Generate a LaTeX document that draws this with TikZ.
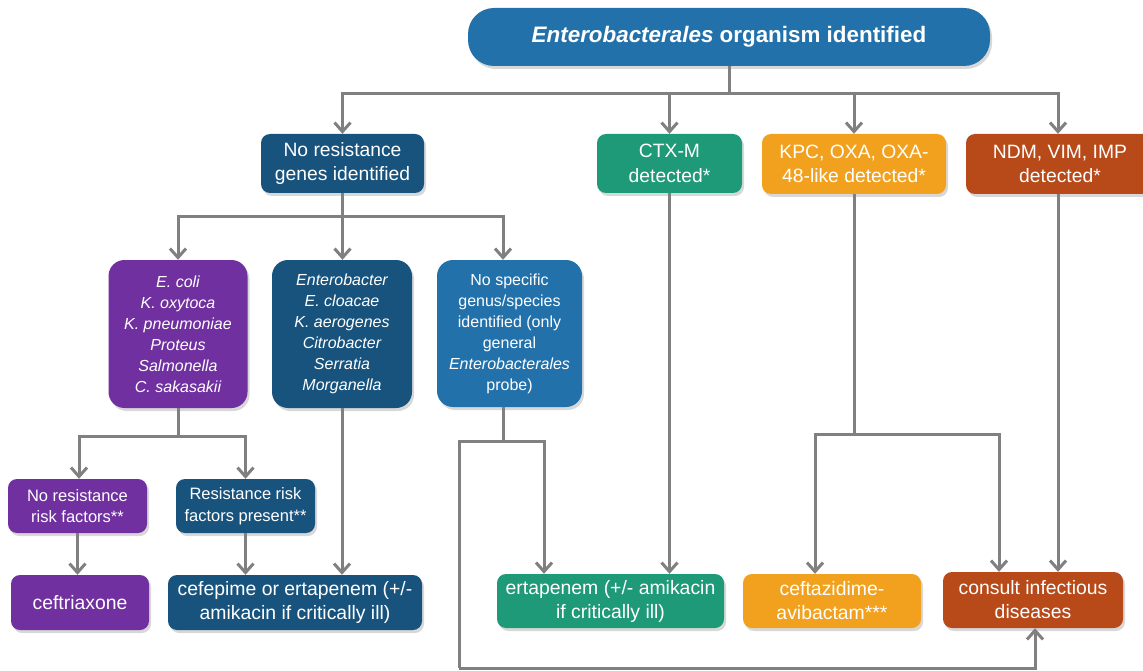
\documentclass[tikz,border=0pt]{standalone}
\usepackage{fontspec}
\setmainfont{Liberation Sans}
\usetikzlibrary{arrows.meta,shadows,calc}
\definecolor{cTop}{RGB}{34,113,170}
\definecolor{cDark}{RGB}{24,83,126}
\definecolor{cPurple}{RGB}{112,48,160}
\definecolor{cGreen}{RGB}{30,154,120}
\definecolor{cOrange}{RGB}{242,161,31}
\definecolor{cRust}{RGB}{184,74,26}
\definecolor{cLine}{RGB}{128,128,128}
\begin{document}
\begin{tikzpicture}[x=1pt,y=-1pt,
  box/.style={rectangle,rounded corners=9pt,text=white,align=center,inner sep=0pt,
    drop shadow={opacity=0.3,shadow xshift=2pt,shadow yshift=-3pt}},
  mainfont/.style={font=\fontsize{19.3}{24.5}\selectfont},
  specfont/.style={font=\fontsize{16}{21}\selectfont\itshape},
  riskfont/.style={font=\fontsize{16.5}{21.5}\selectfont},
  endfont/.style={font=\fontsize{19.4}{24}\selectfont},
  conn/.style={draw=cLine,line width=3pt},
  arr/.style={conn,-{Straight Barb[length=9pt,width=16pt,line width=3pt]}}
]
\fill[white] (0,0) rectangle (1143,671);
\useasboundingbox (0,0) rectangle (1143,671);

% nodes
\node[box,rounded corners=26pt,fill=cTop,minimum width=522pt,minimum height=58pt,
  font=\fontsize{22.4}{26}\selectfont\bfseries] (top) at (729,37)
  {\textit{Enterobacterales} organism identified};

\node[box,mainfont,fill=cDark,minimum width=163pt,minimum height=59pt] (nores) at (342.5,163.5)
  {No resistance\\genes identified};
\node[box,mainfont,fill=cGreen,minimum width=145pt,minimum height=59pt] (ctxm) at (669.5,163.5)
  {CTX-M\\detected*};
\node[box,mainfont,fill=cOrange,minimum width=184pt,minimum height=60pt] (kpc) at (854,164)
  {KPC, OXA, OXA-\\48-like detected*};
\node[box,mainfont,fill=cRust,minimum width=188pt,minimum height=60pt] (ndm) at (1060,164)
  {NDM, VIM, IMP\\detected*};

\node[box,specfont,fill=cPurple,minimum width=139pt,minimum height=148pt,rounded corners=16pt] (ecoli) at (178,334)
  {E. coli\\K. oxytoca\\K. pneumoniae\\Proteus\\Salmonella\\C. sakasakii};
\node[box,specfont,fill=cDark,minimum width=140pt,minimum height=148pt,rounded corners=16pt] (entb) at (342,334)
  {Enterobacter\\E. cloacae\\K. aerogenes\\Citrobacter\\Serratia\\Morganella};
\node[box,fill=cTop,minimum width=145pt,minimum height=147pt,rounded corners=16pt,
  font=\fontsize{16}{21}\selectfont] (nospec) at (509.5,333.5)
  {No specific\\genus/species\\identified (only\\general\\\textit{Enterobacterales}\\probe)};

\node[box,riskfont,fill=cPurple,minimum width=139pt,minimum height=54pt] (risk1) at (77.5,506)
  {No resistance\\risk factors**};
\node[box,riskfont,fill=cDark,minimum width=139pt,minimum height=54pt] (risk2) at (245.5,506)
  {Resistance risk\\factors present**};

\node[box,endfont,fill=cPurple,minimum width=138pt,minimum height=55pt] (ceftri) at (80,602.5)
  {ceftriaxone};
\node[box,endfont,fill=cDark,minimum width=254pt,minimum height=55pt] (cefep) at (295,602.5)
  {cefepime or ertapenem (+/-\\amikacin if critically ill)};
\node[box,endfont,fill=cGreen,minimum width=227pt,minimum height=54pt] (ertap) at (610.5,601)
  {ertapenem (+/- amikacin\\if critically ill)};
\node[box,endfont,fill=cOrange,minimum width=178pt,minimum height=54pt] (ceftaz) at (832,601)
  {ceftazidime-\\avibactam***};
\node[box,endfont,fill=cRust,minimum width=180pt,minimum height=56pt] (consult) at (1033,600)
  {consult infectious\\diseases};

% junction coordinates
\coordinate (j0) at (729,94);
\coordinate (j1) at (342.5,217);
\coordinate (j2) at (178,436);
\coordinate (j3) at (503,441);
\coordinate (j4) at (854,434);
\coordinate (jl) at (459,441);
\coordinate (jb) at (459,668);

% connectors
\draw[conn] (top.south) -- (j0);
\draw[arr] (j0) -| (nores.north);
\draw[arr] (j0) -| (ctxm.north);
\draw[arr] (j0) -| (kpc.north);
\draw[arr] (j0) -| ([xshift=-2pt]ndm.north);

\draw[conn] (nores.south) -- (j1);
\draw[arr] (j1) -| (ecoli.north);
\draw[arr] (j1) -- (j1 |- entb.north);
\draw[arr] (j1) -| ([xshift=-6.5pt]nospec.north);

\draw[conn] (ecoli.south) -- (j2);
\draw[arr] (j2) -| ([xshift=1.5pt]risk1.north);
\draw[arr] (j2) -| (risk2.north);
\draw[arr] (risk1.south) -- (risk1.south |- ceftri.north);
\draw[arr] (risk2.south) -- (risk2.south |- cefep.north);
\draw[arr] (entb.south) -- (entb.south |- cefep.north);

\draw[conn] ([xshift=-6.5pt]nospec.south) -- (j3);
\draw[arr] (j3) -| ([xshift=-66.5pt]ertap.north);
\draw[conn] (j3) -- (jl) -- (jb);
\draw[arr] (jb) -| ([xshift=2pt]consult.south);
\draw[arr] (ctxm.south) -- (ctxm.south |- ertap.north);

\draw[conn] (kpc.south) -- (j4);
\draw[arr] (j4) -| ([xshift=-17pt]ceftaz.north);
\draw[arr] (j4) -| ([xshift=-34pt]consult.north);
\draw[arr] ([xshift=-2pt]ndm.south) -- ([xshift=-2pt]ndm.south |- consult.north);
\end{tikzpicture}
\end{document}
